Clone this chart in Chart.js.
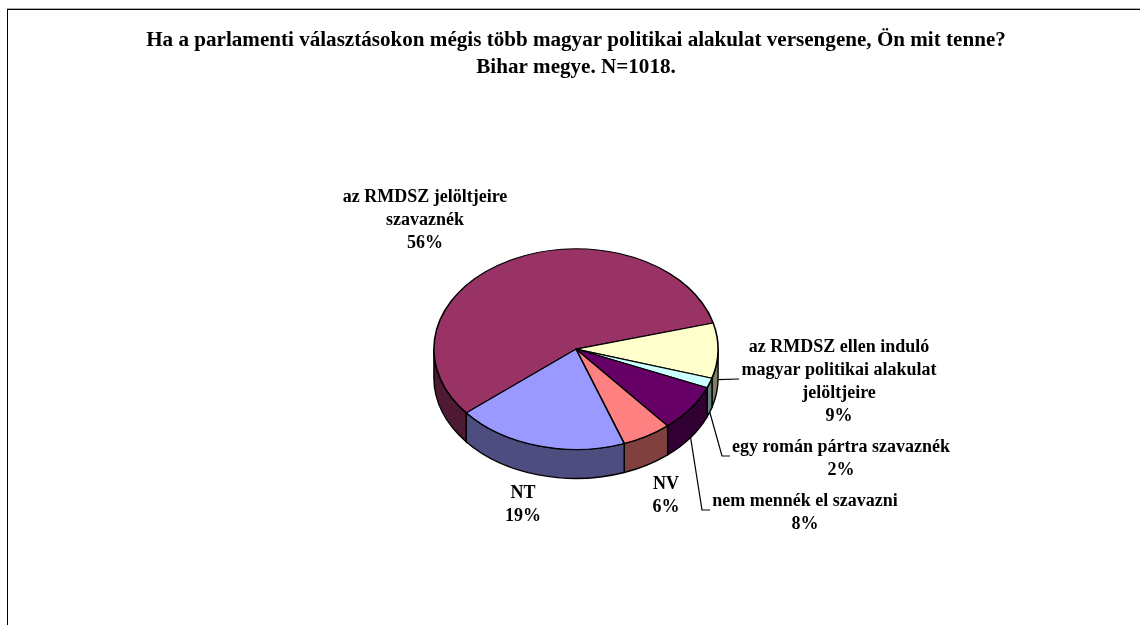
<!DOCTYPE html>
<html>
<head>
<meta charset="utf-8">
<title>Bihar megye</title>
<script src="https://cdn.jsdelivr.net/npm/chart.js@4"></script>
<style>
html, body { margin: 0; padding: 0; background: #fff; }
canvas { display: block; }
</style>
</head>
<body>
<canvas id="pie" width="1140" height="625"></canvas>
<script>
const titleLines = [
    'Ha a parlamenti választásokon mégis több magyar politikai alakulat versengene, Ön mit tenne?',
    'Bihar megye. N=1018.'
];
// wrapped the way the labels are wrapped in the picture
const categories = [
    ['az RMDSZ jelöltjeire', 'szavaznék'],
    ['az RMDSZ ellen induló', 'magyar politikai alakulat', 'jelöltjeire'],
    ['egy román pártra szavaznék'],
    ['nem mennék el szavazni'],
    ['NV'],
    ['NT']
];
const shares = [56.4, 8.8, 1.6, 7.5, 5.6, 19.4];
const topColors = ['#993366', '#FFFFCC', '#CCFFFF', '#660066', '#FF8080', '#9999FF'];
const sideColors = ['#4D1933', '#808066', '#668080', '#330033', '#804040', '#4D4D80'];

// label centre (x, y of first line) and the leader line bends, where there is one
const labelSpots = [
    { x: 425, y: 197, bends: [] },
    { x: 839, y: 347, bends: [[739, 379]] },
    { x: 841, y: 447, bends: [[722, 456], [730, 456]] },
    { x: 805, y: 501, bends: [[702, 510], [710, 510]] },
    { x: 666, y: 484, bends: [] },
    { x: 523, y: 493, bends: [] }
];

const SQUASH = 0.706;  // height/width of the tilted disc
const DEPTH = 29;      // wall height
const serif = '"Liberation Serif", "Times New Roman", serif';

// the rim point under the middle of a slice
function rimPoint(arc, extra) {
    const mid = (arc.startAngle + arc.endAngle) / 2;
    return [
        arc.x + arc.outerRadius * Math.cos(mid),
        arc.y + arc.outerRadius * SQUASH * Math.sin(mid) + extra
    ];
}

const framePlugin = {
    id: 'frame',
    beforeDraw(chart) {
        const ctx = chart.ctx;
        ctx.save();
        ctx.fillStyle = '#b0b0b0';
        ctx.fillRect(7, 8, chart.width - 7, 1);
        ctx.fillStyle = '#000';
        ctx.fillRect(7, 9, chart.width - 7, 1);
        ctx.fillRect(7, 9, 1, chart.height - 9);
        ctx.restore();
    }
};

const tiltPlugin = {
    id: 'tilt',
    beforeDatasetsDraw(chart) {
        const ctx = chart.ctx;
        const arcs = chart.getDatasetMeta(0).data;
        const TWO_PI = Math.PI * 2;

        arcs.forEach(function(arc, i) {
            // only the part of the rim on the front half is seen
            [0, TWO_PI].forEach(function(turn) {
                const from = Math.max(arc.startAngle, turn);
                const to = Math.min(arc.endAngle, turn + Math.PI);
                if (to <= from) return;
                const rx = arc.outerRadius;
                const ry = rx * SQUASH;
                ctx.beginPath();
                ctx.ellipse(arc.x, arc.y, rx, ry, 0, from, to);
                ctx.ellipse(arc.x, arc.y + DEPTH, rx, ry, 0, to, from, true);
                ctx.closePath();
                ctx.fillStyle = sideColors[i];
                ctx.fill();
                ctx.strokeStyle = '#000';
                ctx.lineWidth = 1.4;
                ctx.stroke();
            });
        });

        const first = arcs[0];
        ctx.save();
        ctx.translate(first.x, first.y);
        ctx.scale(1, SQUASH);
        ctx.translate(-first.x, -first.y);
    },
    afterDatasetsDraw(chart) {
        chart.ctx.restore();
    }
};

const labelPlugin = {
    id: 'pieLabels',
    afterDraw(chart) {
        const ctx = chart.ctx;
        const arcs = chart.getDatasetMeta(0).data;
        ctx.save();
        ctx.textAlign = 'center';
        ctx.textBaseline = 'middle';
        ctx.font = 'bold 18px ' + serif;
        ctx.fillStyle = '#000';
        categories.forEach(function(lines, i) {
            const spot = labelSpots[i];
            lines.concat(Math.round(shares[i]) + '%').forEach(function(line, n) {
                ctx.fillText(line, spot.x, spot.y + n * 23.2);
            });
            if (spot.bends.length) {
                const start = rimPoint(arcs[i], DEPTH);
                ctx.beginPath();
                ctx.moveTo(start[0], start[1]);
                spot.bends.forEach(function(p) { ctx.lineTo(p[0], p[1]); });
                ctx.strokeStyle = '#000';
                ctx.lineWidth = 1.2;
                ctx.stroke();
            }
        });
        ctx.restore();
    }
};

new Chart(document.getElementById('pie'), {
    type: 'pie',
    data: {
        labels: categories.map(function(c) { return c.join(' '); }),
        datasets: [{
            data: shares,
            backgroundColor: topColors,
            borderColor: '#000',
            borderWidth: 1.6,
            clip: false
        }]
    },
    options: {
        responsive: false,
        animation: false,
        rotation: 230.5,
        layout: { padding: { left: 12, right: 0, top: 27, bottom: 133 } },
        plugins: {
            legend: { display: false },
            tooltip: { enabled: false },
            title: {
                display: true,
                text: titleLines,
                color: '#000',
                font: { family: serif, size: 21.1, weight: 'bold', lineHeight: 1.284 },
                padding: { top: 0, bottom: 125 }
            }
        }
    },
    plugins: [framePlugin, tiltPlugin, labelPlugin]
});
</script>
</body>
</html>
